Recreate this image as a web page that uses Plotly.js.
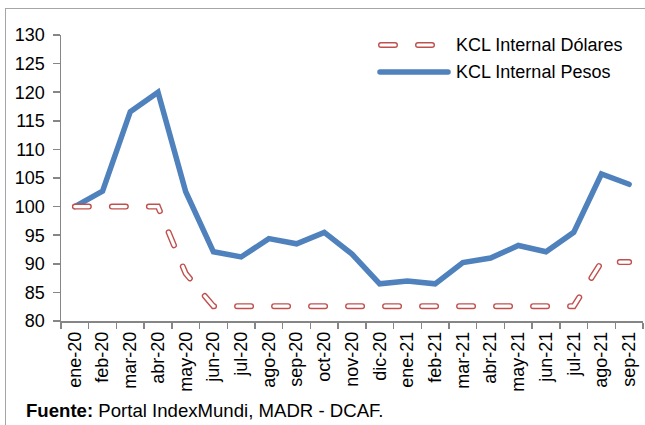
<!DOCTYPE html>
<html>
<head>
<meta charset="utf-8">
<script src="https://cdn.plot.ly/plotly-3.0.1.min.js"></script>
<style>
  html, body { margin: 0; padding: 0; background: #fff; overflow: hidden; }
  #wrap { position: relative; width: 645px; height: 425px; }
  #frame { position: absolute; left: 5px; top: 8px; width: 700px; height: 500px;
           border-left: 1.5px solid #a6a6a6; border-top: 1.5px solid #a6a6a6; pointer-events: none; z-index: 5; }
  #chart { position: absolute; left: 0; top: 0; width: 645px; height: 425px; }
  .scatterlayer .js-line, .shapelayer path { stroke-linecap: round; }
</style>
</head>
<body>
<div id="wrap">
  <div id="chart"></div>
  <div id="frame"></div>
</div>
<script>
const months = ['ene-20','feb-20','mar-20','abr-20','may-20','jun-20','jul-20','ago-20','sep-20','oct-20','nov-20','dic-20',
                'ene-21','feb-21','mar-21','abr-21','may-21','jun-21','jul-21','ago-21','sep-21'];
const dolares = [100,100,100,100,88.3,82.6,82.6,82.6,82.6,82.6,82.6,82.6,82.6,82.6,82.6,82.6,82.6,82.6,82.6,90.3,90.3];
const pesos = [100,102.7,116.6,120.0,102.6,92.1,91.2,94.4,93.5,95.5,91.7,86.5,87.0,86.5,90.2,91.0,93.2,92.1,95.5,105.7,103.9];
const yTicks = [80,85,90,95,100,105,110,115,120,125,130];
const seriesNames = ['KCL Internal Dólares','KCL Internal Pesos'];

const red = '#C0504D', blue = '#4F81BD', axisCol = '#868686';
const dashPat = '14px,23px';
const font = 'Liberation Sans, Arial, sans-serif';

const traces = [
  {x: months, y: pesos, type: 'scatter', mode: 'lines', name: seriesNames[1],
   line: {color: blue, width: 5.5}, showlegend: false, hoverinfo: 'skip'},
  {x: months, y: dolares, type: 'scatter', mode: 'lines', name: seriesNames[0],
   line: {color: red, width: 6, dash: dashPat}, showlegend: false, hoverinfo: 'skip'},
  {x: months, y: dolares, type: 'scatter', mode: 'lines', name: seriesNames[0] + ' (inner)',
   line: {color: '#ffffff', width: 3.2, dash: dashPat}, showlegend: false, hoverinfo: 'skip'}
];

// pixel -> paper helpers (plot area: l=61, r=2, t=35, b=104)
const L = 61, W = 645 - 61 - 2, T = 35, H = 425 - 35 - 104;
const px = v => (v - L) / W;
const py = v => (T + H - v) / H;

const shapes = [
  {type: 'line', xref: 'paper', yref: 'paper', x0: px(381), x1: px(432), y0: py(45), y1: py(45),
   line: {color: red, width: 6, dash: dashPat}},
  {type: 'line', xref: 'paper', yref: 'paper', x0: px(381), x1: px(432), y0: py(45), y1: py(45),
   line: {color: '#ffffff', width: 3.2, dash: dashPat}},
  {type: 'line', xref: 'paper', yref: 'paper', x0: px(380), x1: px(448), y0: py(72), y1: py(72),
   line: {color: blue, width: 5.5}}
];

const annotations = [
  {xref: 'paper', yref: 'paper', x: px(454), y: py(45), xanchor: 'left', yanchor: 'middle',
   text: seriesNames[0], showarrow: false, font: {family: font, size: 18, color: '#000'}},
  {xref: 'paper', yref: 'paper', x: px(454), y: py(72), xanchor: 'left', yanchor: 'middle',
   text: seriesNames[1], showarrow: false, font: {family: font, size: 18, color: '#000'}},
  {xref: 'paper', yref: 'paper', x: px(24), y: py(410), xanchor: 'left', yanchor: 'middle',
   text: '<b>Fuente:</b> Portal IndexMundi, MADR - DCAF.', showarrow: false,
   font: {family: font, size: 18.6, color: '#000'}}
];

const layout = {
  width: 645, height: 425,
  margin: {l: 61, r: 2, t: 35, b: 104, pad: 0},
  paper_bgcolor: '#fff', plot_bgcolor: '#fff',
  font: {family: font, size: 18, color: '#000'},
  showlegend: false,
  xaxis: {
    type: 'category', range: [-0.5, months.length - 0.5], tickangle: -90,
    showline: true, linecolor: axisCol, linewidth: 1.5, showgrid: false, zeroline: false,
    ticks: 'outside', tickson: 'boundaries', ticklen: 6, tickcolor: axisCol, tickwidth: 1.5,
    ticklabelstandoff: 2,
    tickfont: {family: font, size: 18, color: '#000'}, fixedrange: true
  },
  yaxis: {
    range: [80, 130], tickmode: 'array', tickvals: yTicks, ticktext: yTicks.map(String),
    showline: true, linecolor: axisCol, linewidth: 1.5, showgrid: false, zeroline: false,
    ticks: 'outside', ticklen: 7, tickcolor: axisCol, tickwidth: 1.5,
    ticklabelstandoff: 4,
    tickfont: {family: font, size: 18, color: '#000'}, fixedrange: true
  },
  shapes: shapes,
  annotations: annotations
};

Plotly.newPlot('chart', traces, layout, {staticPlot: true, displayModeBar: false});
</script>
</body>
</html>
